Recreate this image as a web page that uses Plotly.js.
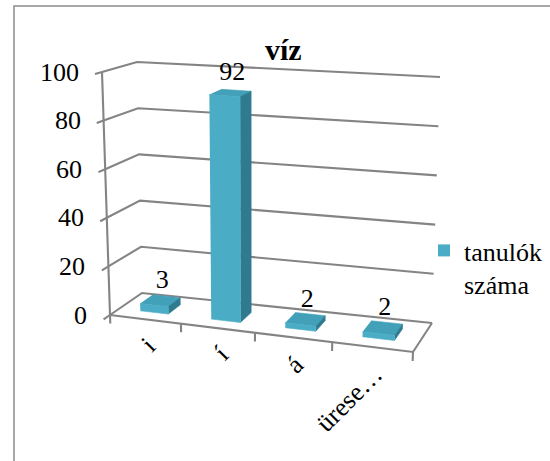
<!DOCTYPE html>
<html><head><meta charset="utf-8">
<script src="https://cdn.plot.ly/plotly-3.0.1.min.js"></script>
<style>html,body{margin:0;padding:0;background:#fff;font-family:'Liberation Serif';overflow:hidden}#chart{width:550px;height:461px}</style>
</head><body><div id="chart"></div>
<script>
// ---- data ----
const categories = ["i", "í", "á", "ürese…"];
const values = [3, 92, 2, 2];
const seriesName = "tanulók<br>száma";
const yTicks = [0, 20, 40, 60, 80, 100];
const yMax = 100;
const chartTitle = "víz";

const FONT = 'Liberation Serif';

// ---- 3D projection frame (pixel corners of the plot box) ----
const box = {
  F0L:[110,315], F0R:[413,352], B0L:[142,293], B0R:[432,323],
  F1L:[102,72],  F1R:[423,94],  B1L:[137,62],  B1R:[440,77]
};
const persp = 1.09;
function sPersp(u){ return u/(u + persp*(1-u)); }
function lerp(a,b,t){ return [a[0]+(b[0]-a[0])*t, a[1]+(b[1]-a[1])*t]; }
function P(u, val, w){
  const t = sPersp(u), v = val/yMax;
  const f0 = lerp(box.F0L, box.F0R, t), b0 = lerp(box.B0L, box.B0R, t);
  const f1 = lerp(box.F1L, box.F1R, t), b1 = lerp(box.B1L, box.B1R, t);
  const lo = lerp(f0, b0, w), hi = lerp(f1, b1, w);
  return lerp(lo, hi, v);
}
function addPts(arr, pts){ pts.forEach(p=>{arr.x.push(p[0]); arr.y.push(p[1]);}); arr.x.push(null); arr.y.push(null); }

const nCat = categories.length;
const barHalf = 0.4/nCat/2, w0 = 0.3, w1 = 0.7;
const gridCol = "#848484";
const frontCol = "#4BACC6", sideCol = "#2F7A8E", topCol = "#42A0B9";

// gridlines + walls
const gridPts = {x:[], y:[]};
yTicks.forEach(t => addPts(gridPts, [P(0,t,0), P(0,t,1), P(1,t,1)]));
addPts(gridPts, [P(0,0,0), P(0,yMax,0)]);
addPts(gridPts, [P(0,0,0), P(1,0,0), P(1,0,1)]);
yTicks.forEach(t => addPts(gridPts, [P(0,t,-0.2), P(0,t,0)]));
for (let k=0;k<=nCat;k++){ addPts(gridPts, [P(k/nCat,0,0), P(k/nCat,-3.5,0)]); }

const frontPts = {x:[],y:[]}, sidePts = {x:[],y:[]}, topPts = {x:[],y:[]};
const labPts = {x:[],y:[],t:[]};
values.forEach((v,i)=>{
  const uc=(i+0.5)/nCat, u0=uc-barHalf, u1=uc+barHalf;
  addPts(topPts,  [P(u0,v,w0),P(u1,v,w0),P(u1,v,w1),P(u0,v,w1)]);
  addPts(sidePts, [P(u1,0,w0),P(u1,0,w1),P(u1,v,w1),P(u1,v,w0)]);
  addPts(frontPts,[P(u0,0,w0),P(u1,0,w0),P(u1,v,w0),P(u0,v,w0)]);
  const c = P(uc,v,0.5);
  labPts.x.push(c[0]+2); labPts.y.push(c[1]-19); labPts.t.push(String(v));
});

const face = (d,col)=>({type:'scatter', mode:'lines', x:d.x, y:d.y, fill:'toself', fillcolor:col,
  line:{color:col, width:0.6}, hoverinfo:'skip', showlegend:false});

const traces = [
  {type:'scatter', mode:'lines', x:gridPts.x, y:gridPts.y, line:{color:gridCol, width:2.1}, hoverinfo:'skip', showlegend:false},
  face(topPts, topCol), face(sidePts, sideCol), face(frontPts, frontCol),
  {type:'scatter', mode:'text', x:labPts.x, y:labPts.y, text:labPts.t, textposition:'middle center',
   textfont:{family:FONT, size:26, color:'#000'}, hoverinfo:'skip', showlegend:false},
  {type:'bar', x:[null], y:[null], name:seriesName, marker:{color:frontCol}, showlegend:true, hoverinfo:'skip'}
];

// text width measurement for rotated category labels
const ctx = document.createElement('canvas').getContext('2d');
ctx.font = "26px 'Liberation Serif'";

const annotations = [];
yTicks.forEach(t=>{
  const p = P(0,t,0);
  annotations.push({x:p[0]-21, y:p[1], xref:'x', yref:'y', text:String(t), showarrow:false,
    xanchor:'right', yanchor:'middle', font:{family:FONT, size:26, color:'#000'}});
});
const c45 = Math.SQRT1_2;
categories.forEach((c,i)=>{
  const p = P((i+0.5)/nCat,0,0);
  const L = ctx.measureText(c).width;
  const ex = p[0]+6, ey = p[1]+23;            // end of the rotated label
  annotations.push({x:ex - L/2*c45, y:ey + L/2*c45, xref:'x', yref:'y', text:c, showarrow:false, textangle:-45,
    xanchor:'center', yanchor:'middle', font:{family:FONT, size:26, color:'#000'}});
});

const layout = {
  width:550, height:461, margin:{l:0,r:0,t:0,b:0,autoexpand:false},
  paper_bgcolor:'#ffffff', plot_bgcolor:'rgba(0,0,0,0)',
  font:{family:FONT, color:'#000'},
  xaxis:{range:[0,550], visible:false, fixedrange:true},
  yaxis:{range:[461,0], visible:false, fixedrange:true},
  title:{text:chartTitle, font:{family:FONT, size:30, color:'#000', weight:'bold'},
    x:0.515, xanchor:'center', y:1-49/461, yanchor:'middle', yref:'container', xref:'container'},
  showlegend:true,
  legend:{x:424/550, xanchor:'left', y:1-227/461, yanchor:'top', valign:'top',
    font:{family:FONT, size:26, color:'#000'}, bgcolor:'rgba(0,0,0,0)', borderwidth:0},
  shapes:[{type:'rect', xref:'x', yref:'y', x0:14, y0:6, x1:600, y1:520, line:{color:'#8c8c8c', width:1.5}}],
  annotations:annotations
};
Plotly.newPlot('chart', traces, layout, {displayModeBar:false, staticPlot:true});
</script></body></html>
